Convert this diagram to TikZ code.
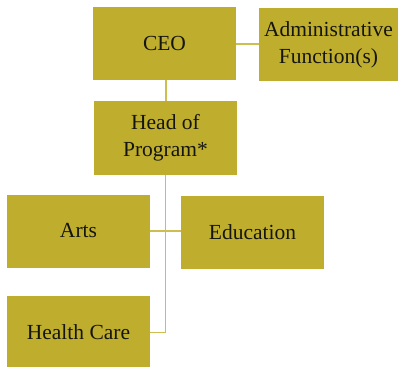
\documentclass[tikz,border=0pt]{standalone}
\usepackage{fontspec}
\setmainfont{Liberation Serif}
\definecolor{boxfill}{HTML}{BFAE2E}
\definecolor{linecol}{HTML}{CDBE52}
\definecolor{txt}{HTML}{151510}
\begin{document}
\begin{tikzpicture}[x=1pt,y=-1pt,
  box/.style={rectangle, fill=boxfill, inner sep=0pt, minimum width=143pt, minimum height=73pt,
    align=center, text=txt, font=\fontsize{21.5}{27}\selectfont},
  conn/.style={draw=linecol, line width=1.2pt}]
\useasboundingbox (0,0) rectangle (398,366);
\clip (0,0) rectangle (398,366);
\node[box] (ceo) at (164.5,43.5) {CEO};
\node[box, minimum width=139pt] (admin) at (328.5,44.5) {Administrative\\Function(s)};
\node[box] (head) at (165.5,138) {Head of\\Program*};
\node[box] (arts) at (78.5,231) {Arts};
\node[box] (edu) at (252.5,232) {Education};
\node[box] (health) at (78.5,332.5) {Health Care};
\draw[conn] (ceo.east |- 0,44) -- (admin.west |- 0,44);
\draw[conn] (166,80) -- (166,101);
\draw[conn] (head.south) -- (head.south |- health.east) -- (health.east);
\draw[conn] (arts.east) -- (arts.east -| edu.west);
\end{tikzpicture}
\end{document}
